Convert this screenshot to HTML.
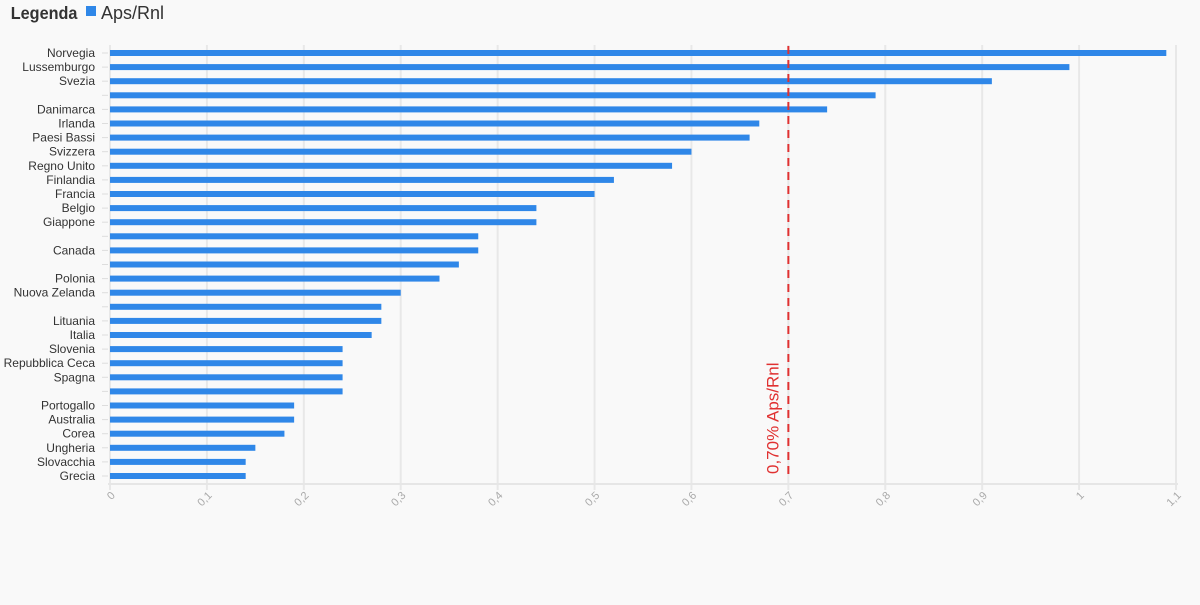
<!DOCTYPE html>
<html><head><meta charset="utf-8"><style>
body{margin:0;background:#f9f9f9;font-family:"Liberation Sans",sans-serif}
svg text{font-family:"Liberation Sans",sans-serif}
</style></head><body>
<svg id="c" width="1200" height="600" xmlns="http://www.w3.org/2000/svg">
<rect width="1200" height="600" fill="#f9f9f9"/>
<g>
<text x="12" y="19" font-size="18" font-weight="bold" fill="#333" transform="scale(0.9,1)">Legenda</text>
<rect x="86" y="6" width="10" height="10" fill="#2f87e8"/>
<text x="101" y="19" font-size="18" fill="#333">Aps/Rnl</text>
</g>
<g id="grid"></g><g id="bars"></g><g id="labels"></g><g id="ticks"></g>
</svg>
<script>
const categories=["Norvegia","Lussemburgo","Svezia","","Danimarca","Irlanda","Paesi Bassi","Svizzera","Regno Unito","Finlandia","Francia","Belgio","Giappone","","Canada","","Polonia","Nuova Zelanda","","Lituania","Italia","Slovenia","Repubblica Ceca","Spagna","","Portogallo","Australia","Corea","Ungheria","Slovacchia","Grecia"];
const values=[1.09,0.99,0.91,0.79,0.74,0.67,0.66,0.60,0.58,0.52,0.50,0.44,0.44,0.38,0.38,0.36,0.34,0.30,0.28,0.28,0.27,0.24,0.24,0.24,0.24,0.19,0.19,0.18,0.15,0.14,0.14];
const tickValues=[0,0.1,0.2,0.3,0.4,0.5,0.6,0.7,0.8,0.9,1,1.1];
const refValue=0.7;
const refLabel="0,70% Aps/Rnl";
const NS="http://www.w3.org/2000/svg";
const x0=110,x1=1176,xmax=1.1,yTop=53,yStep=14.1,axisY=484;
const xs=v=>x0+(x1-x0)*v/xmax;
const ys=i=>yTop+i*yStep;
function mk(t,a,p){const e=document.createElementNS(NS,t);for(const k in a)e.setAttribute(k,a[k]);p.appendChild(e);return e;}
const g=document.getElementById('grid'),b=document.getElementById('bars'),l=document.getElementById('labels'),tk=document.getElementById('ticks');
tickValues.forEach(v=>{
 const gl=mk('line',{x1:xs(v),x2:xs(v),y1:45,y2:axisY+6,stroke:'#e8e8e8','stroke-width':2},g);
 
 
 const x=xs(v),y=axisY+12;
 const t=mk('text',{x:x,y:y,'font-size':11,fill:'#aaa','text-anchor':'end',transform:`rotate(-45 ${x} ${y})`,dx:4,dy:4},tk);
 t.textContent=String(v).replace('.',',');
 
 
});
const ax=mk('line',{x1:x0-2,x2:x1+2,y1:axisY,y2:axisY,stroke:'#e6e6e6','stroke-width':2},g);


categories.forEach((c,i)=>{
 const y=ys(i);
 const r=mk('rect',{x:x0,y:y-3,width:xs(values[i])-x0,height:6,fill:'#2f87e8'},b);
 
 
 mk('line',{x1:102,x2:108,y1:y,y2:y,stroke:'#ddd','stroke-width':1},l);
 if(c){const t=mk('text',{x:95,y:y+4,'font-size':12,fill:'#333','text-anchor':'end'},l);
 t.textContent=c;
 
 }
});
const rx=xs(refValue);
const rl=mk('line',{x1:rx,x2:rx,y1:46,y2:478,stroke:'#e03131','stroke-width':2,'stroke-dasharray':'8,6'},b);


const rt=mk('text',{x:rx-10,y:474,'font-size':17,fill:'#e03131',transform:`rotate(-90 ${rx-10} 474)`},b);
rt.textContent=refLabel;


</script>
</body></html>
